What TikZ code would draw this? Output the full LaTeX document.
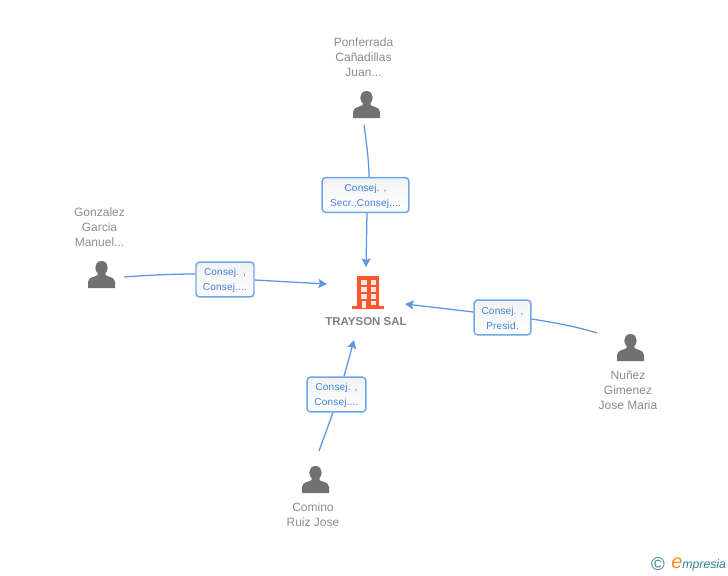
\documentclass[tikz,border=0pt]{standalone}
\usepackage{fontspec}
\setmainfont{Liberation Sans}
\usetikzlibrary{arrows.meta}
\definecolor{linkblue}{HTML}{5B96E8}
\definecolor{boxedge}{HTML}{6FA5EA}
\definecolor{boxtext}{HTML}{3B80DE}
\definecolor{persongray}{HTML}{717171}
\definecolor{labelgray}{HTML}{8C8C8C}
\definecolor{titlegray}{HTML}{7F7F7F}
\definecolor{buildred}{HTML}{F9582F}
\definecolor{logoteal}{HTML}{2F7F93}
\definecolor{logoorange}{HTML}{F58A1F}
\newcommand{\boxstrut}{\rule{0pt}{7.4pt}}
\tikzset{
  x=0.75pt,y=-0.75pt,
  link/.style={draw=linkblue,line width=0.95pt},
  linkarrow/.style={link,-{Stealth[length=6.5pt,width=6.8pt,inset=1.3pt]}},
  rolebox/.style={draw=boxedge,line width=1.1pt,rounded corners=2.5pt,top color=black!5,bottom color=white,
    text=boxtext,align=center,inner sep=0pt,font=\fontsize{7.5}{11.25}\selectfont\addfontfeature{LetterSpace=2},minimum height=26pt},
  personlabel/.style={text=labelgray,align=center,inner sep=0pt,font=\fontsize{9}{11.25}\selectfont},
  person/.pic={
    \fill[persongray] (0,-14) .. controls (-4.5,-14) and (-6.2,-10.5) .. (-6.2,-7.5)
      .. controls (-6.2,-5) and (-5,-3) .. (-4,-2) -- (-4,0)
      .. controls (-6,2) and (-13,1.5) .. (-13.5,7) -- (-13.5,13) -- (13.5,13) -- (13.5,7)
      .. controls (13,1.5) and (6,2) .. (4,0) -- (4,-2)
      .. controls (5,-3) and (6.2,-5) .. (6.2,-7.5)
      .. controls (6.2,-10.5) and (4.5,-14) .. (0,-14) -- cycle;
  },
  building/.pic={
    \fill[buildred] (-11,-16.5) rectangle (11,16.5);
    \fill[buildred] (-16,13.5) rectangle (16,16.5);
    \foreach \wy in {-12.5,-5.5,1}{
      \fill[white,opacity=.85] (-7,\wy) rectangle (-1.5,{\wy+5});
      \fill[white,opacity=.85] (2.5,\wy) rectangle (8,{\wy+5});
    }
    \fill[white,opacity=.9] (-6,8) rectangle (-2,15);
    \fill[white,opacity=.85] (2.5,8) rectangle (8,12);
  }
}
\begin{document}
\begin{tikzpicture}
\useasboundingbox (0,0) rectangle (728,575);
% people
\pic at (366.5,105) {person};
\pic at (101.5,275) {person};
\pic at (630.5,348) {person};
\pic at (315.5,480) {person};
% company
\pic at (368,292.5) {building};
\node[inner sep=0pt,text=titlegray,font=\fontsize{8.6}{11}\bfseries\selectfont] (company) at (366,322) {TRAYSON SAL};
% labels
\node[personlabel] (ponferrada) at (363.5,57) {Ponferrada\\Cañadillas\\Juan...};
\node[personlabel] (gonzalez) at (99.5,227) {Gonzalez\\Garcia\\Manuel...};
\node[personlabel] (nunez) at (628,390) {Nuñez\\Gimenez\\Jose Maria};
\node[personlabel] (comino) at (313,514.5) {Comino\\Ruiz Jose};
% role boxes
\node[rolebox,minimum width=65pt] (boxtop) at (365.5,195) {\boxstrut Consej. ,\\Secr.,Consej....};
\node[rolebox,minimum width=43.5pt] (boxleft) at (225,279.5) {\boxstrut Consej. ,\\Consej....};
\node[rolebox,minimum width=42.5pt] (boxright) at (502.5,317.5) {\boxstrut Consej. ,\\Presid.};
\node[rolebox,minimum width=44pt] (boxbottom) at (336.5,394.5) {\boxstrut Consej. ,\\Consej....};
% free ends
\coordinate (ftop) at (364,125);
\coordinate (ttop) at (366,267);
\coordinate (fleft) at (124,277);
\coordinate (tleft) at (327,284);
\coordinate (fright) at (597,333);
\coordinate (tright) at (405,304);
\coordinate (fbottom) at (319,451);
\coordinate (tbottom) at (354,340);
% connectors
\draw[link] (ftop) .. controls (366,140) and (369,160) .. (boxtop.north -| 369,0);
\draw[linkarrow] (boxtop.south -| 367,0) -- (ttop);
\draw[link] (fleft) .. controls (150,275) and (175,274) .. (boxleft.west |- 0,274);
\draw[linkarrow] (boxleft.east |- 0,280) -- (tleft);
\draw[link] (fright) .. controls (575,326) and (550,322) .. (boxright.east |- 0,319);
\draw[linkarrow] (boxright.west |- 0,312) -- (tright);
\draw[link] (fbottom) -- (boxbottom.south -| 333,0);
\draw[linkarrow] (boxbottom.north -| 344,0) -- (tbottom);
% logo
\node[inner sep=0pt,text=logoteal,font=\fontsize{14}{14}\selectfont] (copyright) at (658,564) {©};
\node[inner sep=0pt,anchor=base west,text=logoteal,font=\fontsize{9.2}{10}\itshape\selectfont] (brand) at (671,568)
  {{\color{logoorange}\fontsize{15}{15}\selectfont e}mpresia};
\end{tikzpicture}
\end{document}
